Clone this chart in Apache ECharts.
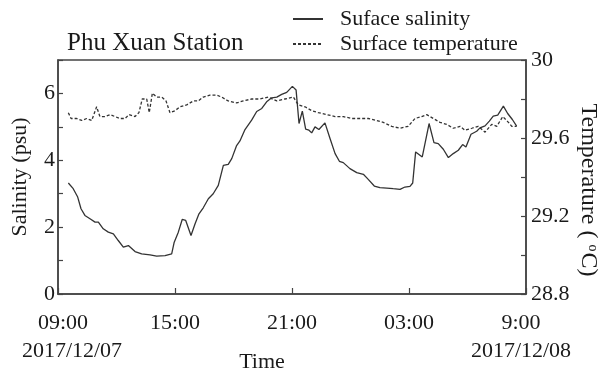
<!DOCTYPE html>
<html>
<head>
<meta charset="utf-8">
<script src="https://cdn.jsdelivr.net/npm/echarts@6/dist/echarts.min.js"></script>
<style>
html,body{margin:0;padding:0;background:#fff;}
#chart{width:603px;height:376px;}
</style>
</head>
<body>
<div id="chart"></div>
<script>
// Hours after 09:00 on 2017/12/07
const salinityTime = [0.53,0.78,1.01,1.18,1.38,1.64,1.90,2.07,2.32,2.58,2.84,3.09,3.35,3.61,3.95,4.29,4.72,5.06,5.49,5.83,5.96,6.17,6.37,6.55,6.82,7.03,7.23,7.45,7.71,7.96,8.22,8.48,8.73,8.91,9.16,9.33,9.59,9.93,10.19,10.45,10.70,10.96,11.22,11.47,11.73,12.02,12.21,12.36,12.53,12.70,12.87,13.01,13.18,13.38,13.69,13.95,14.21,14.43,14.63,14.97,15.32,15.66,15.91,16.22,16.51,16.86,17.19,17.54,17.79,18.05,18.19,18.34,18.68,19.03,19.28,19.50,19.76,20.02,20.27,20.53,20.75,20.92,21.18,21.47,21.64,21.90,22.12,22.32,22.55,22.84,23.06,23.30,23.52];
const salinity = [3.32,3.15,2.90,2.55,2.35,2.25,2.15,2.15,1.95,1.85,1.80,1.60,1.40,1.45,1.27,1.20,1.17,1.13,1.15,1.20,1.55,1.85,2.23,2.20,1.75,2.10,2.40,2.58,2.85,3.00,3.25,3.85,3.88,4.05,4.44,4.58,4.92,5.20,5.46,5.55,5.75,5.87,5.89,5.97,6.03,6.21,6.10,5.10,5.47,4.93,4.90,4.82,5.00,4.92,5.12,4.65,4.20,3.97,3.93,3.75,3.63,3.58,3.43,3.23,3.18,3.17,3.15,3.13,3.20,3.22,3.32,4.25,4.10,5.10,4.53,4.50,4.33,4.08,4.20,4.30,4.47,4.40,4.78,4.87,4.97,5.03,5.17,5.32,5.35,5.62,5.40,5.22,5.02];
const temperatureTime = [0.53,0.67,0.96,1.22,1.47,1.73,1.98,2.15,2.41,2.67,2.92,3.18,3.44,3.64,3.95,4.15,4.32,4.55,4.68,4.84,5.06,5.32,5.54,5.74,6.00,6.26,6.60,6.94,7.19,7.45,7.79,8.14,8.39,8.73,9.16,9.50,9.93,10.36,10.78,11.22,11.64,12.07,12.32,12.67,13.01,13.35,13.78,14.21,14.63,15.06,15.49,15.91,16.34,16.68,17.11,17.54,17.96,18.31,18.65,18.91,19.25,19.59,19.93,20.27,20.62,20.87,21.22,21.55,21.90,22.24,22.50,22.81,23.10,23.27,23.52];
const temperature = [29.73,29.70,29.70,29.69,29.70,29.69,29.76,29.71,29.71,29.72,29.71,29.70,29.70,29.72,29.71,29.73,29.80,29.80,29.73,29.83,29.81,29.81,29.79,29.73,29.74,29.76,29.77,29.79,29.79,29.81,29.82,29.82,29.81,29.79,29.78,29.79,29.80,29.80,29.81,29.79,29.80,29.81,29.77,29.76,29.74,29.73,29.72,29.71,29.71,29.70,29.70,29.70,29.69,29.68,29.66,29.65,29.66,29.70,29.71,29.72,29.70,29.68,29.67,29.65,29.66,29.64,29.65,29.66,29.63,29.67,29.66,29.71,29.68,29.66,29.66];

const xTickLabels = ['09:00','15:00','21:00','03:00','9:00'];
const xDateLabels = ['2017/12/07','','','','2017/12/08'];
const leftTickLabels = ['0','2','4','6'];
const rightTickLabels = ['28.8','29.2','29.6','30'];

const FONT = 'Liberation Serif';
const TXT = '#1a1a1a';
const AX = '#444';

const chart = echarts.init(document.getElementById('chart'), null, {renderer:'canvas'});
const pairs = (t, v) => t.map((x, i) => [x, v[i]]);

chart.setOption({
  animation: false,
  backgroundColor: '#fff',
  title: {
    text: 'Phu Xuan Station',
    left: 67, top: 31, padding: 0,
    textStyle: {fontFamily: FONT, fontSize: 25, fontWeight: 'normal', color: TXT}
  },
  legend: {
    orient: 'vertical', left: 292, top: 8, padding: 0,
    itemWidth: 30, itemHeight: 14, itemGap: 3,
    itemStyle: {opacity: 0},
    lineStyle: {width: 2},
    textStyle: {fontFamily: FONT, fontSize: 22, color: TXT, padding: [0,0,0,12]},
    data: ['Suface salinity', 'Surface temperature']
  },
  grid: {left: 58, right: 77, top: 60, bottom: 82, show: true, borderColor: AX, borderWidth: 1.5,
    containLabel: false, outerBoundsMode: 'none'},
  xAxis: {
    type: 'value', min: 0, max: 24, interval: 6,
    name: 'Time', nameLocation: 'middle', nameGap: 57, nameMoveOverlap: false,
    nameTextStyle: {fontFamily: FONT, fontSize: 22, color: TXT, padding: [0,60,0,0]},
    axisLine: {lineStyle: {color: AX, width: 1.5}},
    axisTick: {inside: true, length: 6, lineStyle: {color: AX, width: 1.2}},
    splitLine: {show: false},
    axisLabel: {
      margin: 15, showMinLabel: true, showMaxLabel: true,
      formatter: function (v) {
        const i = Math.round(v / 6);
        const last = i === xTickLabels.length - 1;
        let s = '{' + (i === 0 ? 't0' : (last ? 'tl' : 't')) + '|' + xTickLabels[i] + '}';
        if (xDateLabels[i]) s += '\n{' + (i === 0 ? 'd0' : 'dl') + '|' + xDateLabels[i] + '}';
        return s;
      },
      rich: {
        t: {fontFamily: FONT, fontSize: 22, color: TXT, lineHeight: 28},
        t0: {fontFamily: FONT, fontSize: 22, color: TXT, lineHeight: 28, padding: [0,0,0,10]},
        tl: {fontFamily: FONT, fontSize: 22, color: TXT, lineHeight: 28, padding: [0,10,0,0]},
        d0: {fontFamily: FONT, fontSize: 22, color: TXT, lineHeight: 28, padding: [0,0,0,28]},
        dl: {fontFamily: FONT, fontSize: 22, color: TXT, lineHeight: 28, padding: [0,10,0,0]}
      }
    }
  },
  yAxis: [{
    type: 'value', min: 0, max: 7, interval: 1, position: 'left',
    name: 'Salinity (psu)', nameLocation: 'middle', nameGap: 27, nameRotate: 90, nameMoveOverlap: false,
    nameTextStyle: {fontFamily: FONT, fontSize: 22, color: TXT},
    axisLine: {show: true, lineStyle: {color: AX, width: 1.5}},
    axisTick: {show: true, inside: true, length: 5, lineStyle: {color: AX, width: 1.2}},
    splitLine: {show: false},
    axisLabel: {
      margin: 3, fontFamily: FONT, fontSize: 22, color: TXT, showMinLabel: true, showMaxLabel: true,
      formatter: v => leftTickLabels.includes(String(v)) ? String(v) : ''
    }
  }, {
    type: 'value', min: 28.8, max: 30, interval: 0.2, position: 'right',
    name: 'Temperature ({sup|o}C)', nameLocation: 'middle', nameGap: 50, nameRotate: -90, nameMoveOverlap: false,
    nameTextStyle: {fontFamily: FONT, fontSize: 24, color: TXT, padding: [0,0,0,26],
      rich: {sup: {fontFamily: FONT, fontSize: 14, color: TXT, verticalAlign: 'top', padding: [0,1,0,6]}}},
    axisLine: {show: true, lineStyle: {color: AX, width: 1.5}},
    axisTick: {show: true, inside: true, length: 5, lineStyle: {color: AX, width: 1.2}},
    splitLine: {show: false},
    axisLabel: {
      margin: 5, fontFamily: FONT, fontSize: 22, color: TXT, showMinLabel: true, showMaxLabel: true,
      formatter: v => { const s = String(Math.round(v * 10) / 10); return rightTickLabels.includes(s) ? s : ''; }
    }
  }],
  series: [{
    name: 'Suface salinity', type: 'line', yAxisIndex: 0,
    data: pairs(salinityTime, salinity),
    symbol: 'none', showSymbol: false,
    lineStyle: {color: '#333', width: 1.3},
    itemStyle: {color: '#333'}
  }, {
    name: 'Surface temperature', type: 'line', yAxisIndex: 1,
    data: pairs(temperatureTime, temperature),
    symbol: 'none', showSymbol: false,
    lineStyle: {color: '#333', width: 1.3, type: [3, 2]},
    itemStyle: {color: '#333'}
  }]
});
</script>
</body>
</html>
